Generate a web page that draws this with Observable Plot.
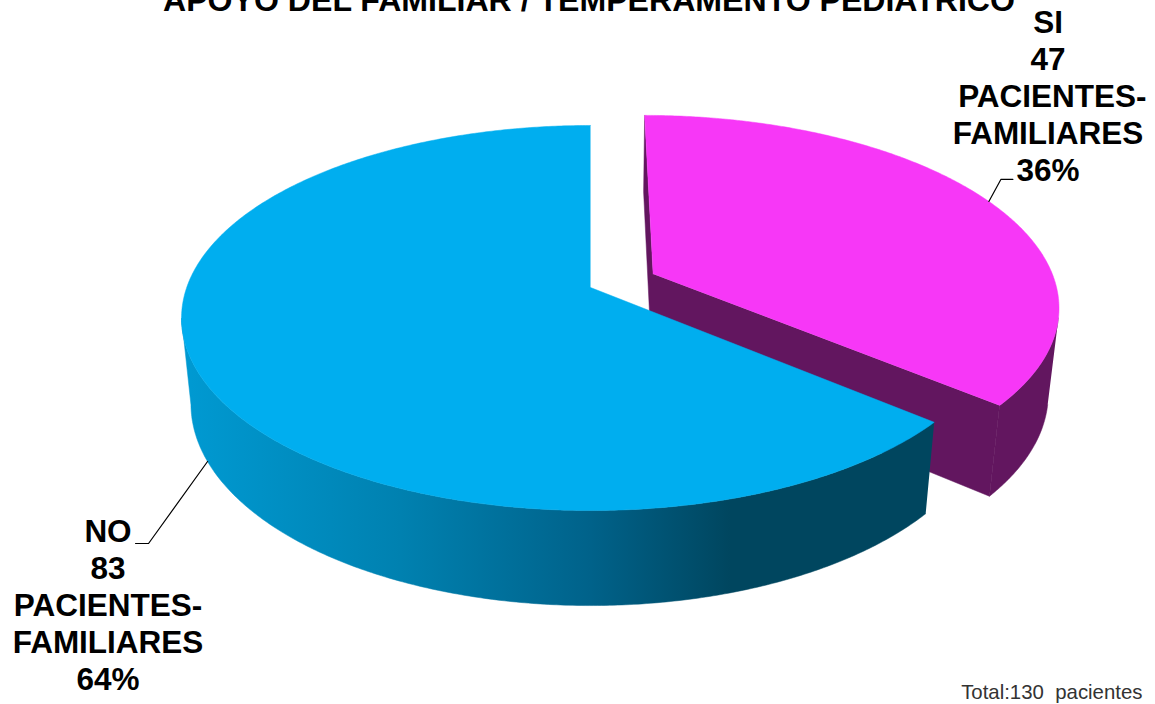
<!DOCTYPE html>
<html lang="es">
<head>
<meta charset="utf-8">
<title>Apoyo del familiar / temperamento pediátrico</title>
<script src="https://cdn.jsdelivr.net/npm/d3@7"></script>
<script src="https://cdn.jsdelivr.net/npm/@observablehq/plot@0.6"></script>
<style>
  html, body { margin: 0; padding: 0; background: #fff; }
  svg { display: block; }
</style>
</head>
<body>
<div id="chart"></div>
<script>
// Datos de la encuesta
const categorias = ["SI", "NO"];
const pacientes = [47, 83];
const unidad = ["PACIENTES-", "FAMILIARES"];
const titulo = "APOYO DEL FAMILIAR / TEMPERAMENTO PEDIATRICO";

// Colores de cara superior y pared lateral
const colorCara = ["#F737F7", "#00AEEF"];
const colorPared = "#62165F";
const rampaX = [190, 400, 590, 730, 940];
const rampaColor = ["#0099D1", "#0081B0", "#00628A", "#00465F", "#00465F"];

// Cámara: proyección en perspectiva de un disco unidad con grosor
const W = 1155, H = 704;
const cam = { cx: 590, cy: 287, A: 403.8, B: 187.7, k: 0.1584, m: 0.023, N: 87.3 };
const separacion = 0.173; // desplazamiento de la porción SI

function proyecta(u, v, z) {
  const d = 1 - cam.k * v + cam.m * z;
  return { x: cam.cx + cam.A * u / d, y: cam.cy + (cam.B * v + cam.N * z) / d };
}

// Un ángulo se mide en grados, en sentido horario desde las 12
const total = d3.sum(pacientes);
const barrido = pacientes.map(p => p / total * 360);
const rad = g => g * Math.PI / 180;
const grados = r => r * 180 / Math.PI;

function sector(i) {
  const inicio = d3.sum(barrido.slice(0, i));
  const fin = inicio + barrido[i];
  const medio = (inicio + fin) / 2;
  const e = i === 0 ? separacion : 0;
  const ox = e * Math.sin(rad(medio)), oy = -e * Math.cos(rad(medio));
  const borde = (g, z) => proyecta(ox + Math.sin(rad(g)), oy - Math.cos(rad(g)), z);
  const apice = z => proyecta(ox, oy, z);
  // Ángulo del punto de la silueta donde el disco alcanza su anchura máxima
  const silueta = grados(Math.acos(oy - cam.k));
  return { inicio, fin, medio, borde, apice, silueta };
}

const si = sector(0), no = sector(1);
const arco = (s, a, b, z, paso = 0.5) => d3.range(a, b, paso).concat(b).map(g => s.borde(g, z));
const tapa = s => [s.apice(0), ...arco(s, s.inicio, s.fin, 0)];

// Pared exterior entre dos ángulos: arco superior y arco inferior invertido
const pared = (s, a, b) => [...arco(s, a, b, 0), ...arco(s, a, b, 1).reverse()];

// Caras de corte de la porción SI, del ápice a cada extremo del arco
const corteSi = [si.apice(0), si.borde(si.fin, 0), si.borde(si.fin, 1), si.apice(1), si.borde(si.inicio, 1), si.borde(si.inicio, 0)];

const etiqueta = (i, sangria = "") => [categorias[i], pacientes[i], sangria + unidad[0], unidad[1], Math.round(pacientes[i] / total * 100) + "%"].join("\n");

// Líneas guía: parten del borde del sector y acaban junto a su rótulo
const guiaSi = (() => { const a = si.borde(si.medio, 0); return [a, { x: a.x + 12, y: a.y - 22 }, { x: a.x + 24, y: a.y - 22 }]; })();
const guiaNo = (() => { const a = no.borde(no.medio, 1); return [a, { x: a.x - 59, y: a.y + 82 }, { x: a.x - 72, y: a.y + 82 }]; })();

// Degradado horizontal de la pared azul
function degradado() {
  const defs = d3.create("svg:defs");
  const g = defs.append("linearGradient").attr("id", "paredAzul")
    .attr("gradientUnits", "userSpaceOnUse")
    .attr("x1", rampaX[0]).attr("x2", rampaX[rampaX.length - 1]).attr("y1", 0).attr("y2", 0);
  rampaX.forEach((x, i) => g.append("stop")
    .attr("offset", (x - rampaX[0]) / (rampaX[rampaX.length - 1] - rampaX[0]))
    .attr("stop-color", rampaColor[i]));
  return defs.node();
}

const fuente = "'Liberation Sans', Arial, sans-serif";
const relleno = (datos, color) => Plot.line(datos, { x: "x", y: "y", fill: color, stroke: color, strokeWidth: 0.5 });
const rotulo = { fontFamily: fuente, fontWeight: 700, fontSize: 31.5, lineHeight: 37 / 31.5, fill: "#000", textAnchor: "middle" };

const chart = Plot.plot({
  width: W, height: H, margin: 0,
  x: { domain: [0, W], range: [0, W], axis: null },
  y: { domain: [0, H], range: [0, H], axis: null },
  style: { background: "#fff" },
  marks: [
    degradado,
    relleno(corteSi, colorPared),
    relleno(pared(si, si.silueta, si.fin), colorPared),
    relleno(tapa(si), colorCara[0]),
    Plot.line(pared(no, no.inicio, 360 - no.silueta), { x: "x", y: "y", fill: "url(#paredAzul)", stroke: "url(#paredAzul)", strokeWidth: 0.5 }),
    relleno(tapa(no), colorCara[1]),
    Plot.line(guiaSi, { x: "x", y: "y", stroke: "#000", strokeWidth: 1.2 }),
    Plot.line(guiaNo, { x: "x", y: "y", stroke: "#000", strokeWidth: 1.2 }),
    Plot.text([titulo], { x: () => 588.5, y: () => 10, text: d => d, lineAnchor: "bottom", fontFamily: fuente, fontWeight: 700, fontSize: 32.1, fill: "#000" }),
    Plot.text([etiqueta(0, "\u00a0")], { x: () => 1047.5, y: () => 94.5, text: d => d, ...rotulo }),
    Plot.text([etiqueta(1)], { x: () => 107.5, y: () => 603.5, text: d => d, ...rotulo }),
    Plot.text([`Total:${total}\u00a0\u00a0pacientes`], { x: () => 1142, y: () => 692, text: d => d, textAnchor: "end", fontFamily: fuente, fontSize: 20.4, fill: "#333" })
  ]
});
chart.style.color = "#000";
document.getElementById("chart").append(chart);
</script>
</body>
</html>
